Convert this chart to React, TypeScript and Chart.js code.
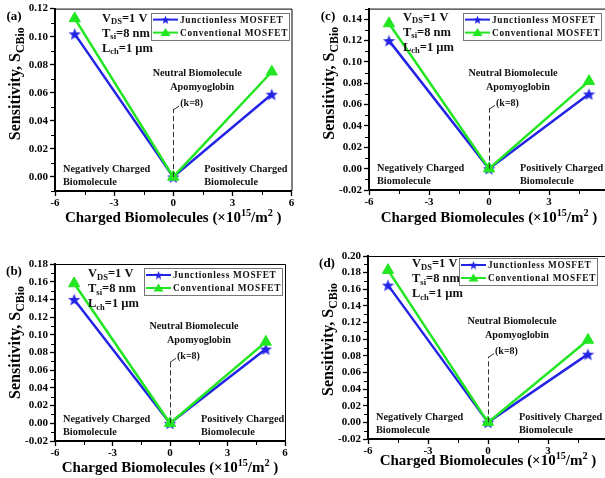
import React, { useEffect, useRef } from 'react';
import { Chart, registerables } from 'chart.js';

Chart.register(...registerables);

// ---------- data ----------
const chargeX = [-5, 0, 5];
const seriesNames = ['Junctionless MOSFET', 'Conventional MOSFET'];
const panelNames = ['(a)', '(b)', '(c)', '(d)'];

const junctionlessA = [0.102, 0, 0.059];
const conventionalA = [0.113, 0, 0.075];
const junctionlessB = [0.140, 0, 0.084];
const conventionalB = [0.158, 0, 0.092];
const junctionlessC = [0.120, 0, 0.070];
const conventionalC = [0.136, 0, 0.082];
const junctionlessD = [0.165, 0, 0.082];
const conventionalD = [0.183, 0, 0.099];

const xTicks = [-6, -3, 0, 3, 6];
const yTicksA = [0, 0.02, 0.04, 0.06, 0.08, 0.10, 0.12];
const yTicksB = [-0.02, 0, 0.02, 0.04, 0.06, 0.08, 0.10, 0.12, 0.14, 0.16, 0.18];
const yTicksC = [-0.02, 0, 0.02, 0.04, 0.06, 0.08, 0.10, 0.12, 0.14];
const yTicksD = [-0.02, 0, 0.02, 0.04, 0.06, 0.08, 0.10, 0.12, 0.14, 0.16, 0.18, 0.20];

// ---------- styling ----------
const SERIF = '"Liberation Serif", "Times New Roman", serif';
const BLUE = '#2424e6';
const GREEN = '#22e622';

type Piece = { t: string; s?: 'sub' | 'sup' };

function setFont(ctx: CanvasRenderingContext2D, size: number) {
  ctx.font = `bold ${size}px ${SERIF}`;
}

function drawRich(
  ctx: CanvasRenderingContext2D,
  pieces: Piece[],
  x: number,
  y: number,
  size: number,
  align: 'left' | 'center',
  subScale = 0.68
) {
  const widths = pieces.map((p) => {
    setFont(ctx, p.s ? size * subScale : size);
    return ctx.measureText(p.t).width;
  });
  const total = widths.reduce((a, b) => a + b, 0);
  let cx = align === 'center' ? x - total / 2 : x;
  ctx.textAlign = 'left';
  ctx.textBaseline = 'alphabetic';
  pieces.forEach((p, i) => {
    setFont(ctx, p.s ? size * subScale : size);
    const dy = p.s === 'sub' ? size * 0.22 : p.s === 'sup' ? -size * 0.42 : 0;
    ctx.fillText(p.t, cx, y + size * 0.33 + dy);
    cx += widths[i];
  });
}

function makeStar(size: number, color: string) {
  const c = document.createElement('canvas');
  c.width = size;
  c.height = size;
  const g = c.getContext('2d')!;
  const cx = size / 2;
  const cy = size / 2 + size * 0.06;
  const R = size / 2;
  const r = R * 0.42;
  g.beginPath();
  for (let i = 0; i < 10; i++) {
    const ang = -Math.PI / 2 + (i * Math.PI) / 5;
    const rad = i % 2 === 0 ? R : r;
    g.lineTo(cx + rad * Math.cos(ang), cy + rad * Math.sin(ang));
  }
  g.closePath();
  g.fillStyle = color;
  g.fill();
  return c;
}

type PanelCfg = {
  name: string;
  jl: number[];
  cv: number[];
  yTicks: number[];
  yMin: number;
  yMax: number;
  left: number;
  top: number;
  w: number;
  h: number;
  area: { l: number; t: number; r: number; b: number };
  vdsDx: number;
  vdsDy: number;
  legendDx: number;
  legendDy: number;
  xTitleDy: number;
  yTitleDy: number;
};

const panels: PanelCfg[] = [
  {
    name: panelNames[0], jl: junctionlessA, cv: conventionalA, yTicks: yTicksA,
    yMin: -0.01, yMax: 0.12, left: 0, top: 0, w: 300, h: 240,
    area: { l: 55, t: 8, r: 295, b: 191 },
    vdsDx: 47, vdsDy: 9, legendDx: 96, legendDy: 4, xTitleDy: 26, yTitleDy: -16,
  },
  {
    name: panelNames[1], jl: junctionlessB, cv: conventionalB, yTicks: yTicksB,
    yMin: -0.02, yMax: 0.18, left: 0, top: 240, w: 300, h: 238,
    area: { l: 55, t: 264, r: 285, b: 441 },
    vdsDx: 33, vdsDy: 9, legendDx: 89, legendDy: 4, xTitleDy: 26, yTitleDy: -10,
  },
  {
    name: panelNames[2], jl: junctionlessC, cv: conventionalC, yTicks: yTicksC,
    yMin: -0.02, yMax: 0.15, left: 300, top: 0, w: 320, h: 240,
    area: { l: 369, t: 5, r: 609, b: 190 },
    vdsDx: 34, vdsDy: 8, legendDx: 94, legendDy: 4, xTitleDy: 27, yTitleDy: -16,
  },
  {
    name: panelNames[3], jl: junctionlessD, cv: conventionalD, yTicks: yTicksD,
    yMin: -0.02, yMax: 0.20, left: 300, top: 240, w: 320, h: 238,
    area: { l: 368, t: 256, r: 608, b: 439 },
    vdsDx: 44, vdsDy: 7, legendDx: 91, legendDy: 2, xTitleDy: 21.5, yTitleDy: -8,
  },
];

function Panel({ cfg }: { cfg: PanelCfg }) {
  const ref = useRef<HTMLCanvasElement | null>(null);

  useEffect(() => {
    const canvas = ref.current;
    if (!canvas) return;
    const starBig = makeStar(13, BLUE);
    const starSmall = makeStar(9, BLUE);

    const a = cfg.area;
    const yW = a.l - cfg.left;
    const xH = cfg.top + cfg.h - a.b;

    const annot = {
      id: 'annot',
      afterDraw(chart: any) {
        const ctx: CanvasRenderingContext2D = chart.ctx;
        const ca = chart.chartArea;
        const xs = chart.scales.x;
        const ys = chart.scales.y;
        ctx.save();
        ctx.fillStyle = '#000';
        ctx.strokeStyle = '#000';

        // top and right frame
        ctx.lineWidth = 1;
        ctx.beginPath();
        ctx.moveTo(ca.left, ca.top + 0.5);
        ctx.lineTo(ca.right + 0.5, ca.top + 0.5);
        ctx.lineTo(ca.right + 0.5, ca.bottom);
        ctx.stroke();

        // minor ticks
        ctx.lineWidth = 1;
        const yt = cfg.yTicks;
        const minorsY: number[] = [];
        for (let i = 0; i < yt.length - 1; i++) minorsY.push((yt[i] + yt[i + 1]) / 2);
        const stepY = yt[1] - yt[0];
        if (yt[0] - stepY / 2 >= cfg.yMin - 1e-9) minorsY.push(yt[0] - stepY / 2);
        if (yt[yt.length - 1] + stepY / 2 <= cfg.yMax + 1e-9) minorsY.push(yt[yt.length - 1] + stepY / 2);
        ctx.beginPath();
        minorsY.forEach((v) => {
          const py = Math.round(ys.getPixelForValue(v)) + 0.5;
          ctx.moveTo(ca.left - 1, py);
          ctx.lineTo(ca.left - 4, py);
        });
        for (let i = 0; i < xTicks.length - 1; i++) {
          const v = (xTicks[i] + xTicks[i + 1]) / 2;
          const px = Math.round(xs.getPixelForValue(v)) + 0.5;
          ctx.moveTo(px, ca.bottom + 1);
          ctx.lineTo(px, ca.bottom + 4);
        }
        ctx.stroke();

        // dashed neutral line at x = 0
        const x0 = xs.getPixelForValue(0);
        const y0 = ys.getPixelForValue(0);
        const yTop = ca.bottom - (ca.bottom - ca.top) * 0.45;
        ctx.strokeStyle = '#333';
        ctx.lineWidth = 1;
        ctx.setLineDash([5, 3]);
        ctx.beginPath();
        ctx.moveTo(Math.round(x0) + 0.5, y0);
        ctx.lineTo(Math.round(x0) + 0.5, yTop);
        ctx.stroke();
        ctx.setLineDash([]);
        ctx.beginPath();
        ctx.moveTo(x0, yTop + 1);
        ctx.lineTo(x0 + 6, yTop - 3);
        ctx.stroke();

        ctx.fillStyle = '#111';
        drawRich(ctx, [{ t: '(k=8)' }], x0 + 7, yTop - 6, 10, 'left');
        drawRich(ctx, [{ t: 'Apomyoglobin' }], x0 + 29, yTop - 22, 10.2, 'center');
        drawRich(ctx, [{ t: 'Neutral Biomolecule' }], x0 + 24, yTop - 36, 10.2, 'center');

        drawRich(ctx, [{ t: 'Negatively Charged' }], ca.left + 8, ca.bottom - 22, 10.3, 'left');
        drawRich(ctx, [{ t: 'Biomolecule' }], ca.left + 8, ca.bottom - 9, 10.3, 'left');
        drawRich(ctx, [{ t: 'Positively Charged' }], x0 + 31, ca.bottom - 22, 10.3, 'left');
        drawRich(ctx, [{ t: 'Biomolecule' }], x0 + 31, ca.bottom - 9, 10.3, 'left');

        // device parameters
        const vx = ca.left + cfg.vdsDx;
        const vy = ca.top + cfg.vdsDy;
        drawRich(ctx, [{ t: 'V' }, { t: 'DS', s: 'sub' }, { t: '=1 V' }], vx, vy, 12.5, 'left');
        drawRich(ctx, [{ t: 'T' }, { t: 'si', s: 'sub' }, { t: '=8 nm' }], vx, vy + 15, 12.5, 'left');
        drawRich(ctx, [{ t: 'L' }, { t: 'ch', s: 'sub' }, { t: '=1 \u00b5m' }], vx, vy + 30, 12.5, 'left');

        // legend
        const lx = ca.left + cfg.legendDx;
        const ly = ca.top + cfg.legendDy;
        const lw = 138;
        const lh = 27;
        ctx.strokeStyle = '#777';
        ctx.lineWidth = 1;
        ctx.strokeRect(Math.round(lx) + 0.5, Math.round(ly) + 0.5, lw, lh);
        chart.data.datasets.forEach((ds: any, i: number) => {
          const ry = ly + 7 + i * 13;
          ctx.strokeStyle = ds.borderColor;
          ctx.lineWidth = 2;
          ctx.beginPath();
          ctx.moveTo(lx + 2, ry);
          ctx.lineTo(lx + 27, ry);
          ctx.stroke();
          ctx.fillStyle = ds.borderColor;
          if (i === 0) {
            ctx.drawImage(starSmall, lx + 14.5 - 4.5, ry - 4.5);
          } else {
            ctx.beginPath();
            ctx.moveTo(lx + 14.5, ry - 4.5);
            ctx.lineTo(lx + 19.5, ry + 3.5);
            ctx.lineTo(lx + 9.5, ry + 3.5);
            ctx.closePath();
            ctx.fill();
          }
          ctx.fillStyle = '#111';
          (ctx as any).letterSpacing = '0.7px';
          drawRich(ctx, [{ t: ds.label }], lx + 29, ry, 9.3, 'left');
          (ctx as any).letterSpacing = '0px';
        });

        // axis titles
        ctx.fillStyle = '#000';
        const xc = (ca.left + ca.right) / 2;
        drawRich(
          ctx,
          [
            { t: 'Charged Biomolecules (\u00d710' },
            { t: '15', s: 'sup' },
            { t: '/m' },
            { t: '2', s: 'sup' },
            { t: ' )' },
          ],
          xc,
          ca.bottom + cfg.xTitleDy,
          15,
          'center'
        );
        const yc = (ca.top + ca.bottom) / 2 + cfg.yTitleDy;
        ctx.save();
        ctx.translate(ca.left - 40, yc);
        ctx.rotate(-Math.PI / 2);
        drawRich(ctx, [{ t: 'Sensitivity, S' }, { t: 'CBio', s: 'sub' }], 0, 0, 16, 'center', 0.74);
        ctx.restore();

        // panel label
        drawRich(ctx, [{ t: cfg.name }], ca.left - 41, ca.top + 7, 13, 'center');
        ctx.restore();
      },
    };

    const tickFont = { family: SERIF, size: 11, weight: 'bold' as const };

    const chart = new Chart(canvas, {
      type: 'line',
      data: {
        datasets: [
          {
            label: seriesNames[0],
            data: chargeX.map((x, i) => ({ x, y: cfg.jl[i] })),
            borderColor: BLUE,
            backgroundColor: BLUE,
            borderWidth: 2.5,
            pointStyle: starBig as any,
            pointRadius: 6,
            order: 1,
          },
          {
            label: seriesNames[1],
            data: chargeX.map((x, i) => ({ x, y: cfg.cv[i] })),
            borderColor: GREEN,
            backgroundColor: GREEN,
            borderWidth: 2.5,
            pointStyle: 'triangle',
            pointRadius: 6.5,
            pointBorderWidth: 1,
            order: 0,
          },
        ],
      },
      options: {
        responsive: false,
        animation: false,
        devicePixelRatio: 1,
        layout: {
          padding: {
            left: 0,
            top: a.t - cfg.top,
            right: cfg.left + cfg.w - a.r,
            bottom: 0,
          },
        },
        plugins: {
          legend: { display: false },
          tooltip: { enabled: false },
          title: { display: false },
        },
        scales: {
          x: {
            type: 'linear',
            min: -6,
            max: 6,
            afterBuildTicks: (s: any) => {
              s.ticks = xTicks.map((v) => ({ value: v }));
            },
            afterFit: (s: any) => {
              s.height = xH;
            },
            ticks: {
              font: tickFont,
              color: '#000',
              padding: 1,
              maxRotation: 0,
              autoSkip: false,
              callback: (v: any) => String(v),
            },
            grid: {
              display: true,
              drawOnChartArea: false,
              drawTicks: true,
              tickLength: 5,
              tickColor: '#000',
              tickWidth: 1.3,
            },
            border: { display: true, color: '#000', width: 2 },
          },
          y: {
            type: 'linear',
            min: cfg.yMin,
            max: cfg.yMax,
            afterBuildTicks: (s: any) => {
              s.ticks = cfg.yTicks.map((v) => ({ value: v }));
            },
            afterFit: (s: any) => {
              s.width = yW;
            },
            ticks: {
              font: tickFont,
              color: '#000',
              padding: 2,
              autoSkip: false,
              callback: (v: any) => Number(v).toFixed(2),
            },
            grid: {
              display: true,
              drawOnChartArea: false,
              drawTicks: true,
              tickLength: 5,
              tickColor: '#000',
              tickWidth: 1.3,
            },
            border: { display: true, color: '#000', width: 2 },
          },
        },
      },
      plugins: [annot],
    });
    return () => chart.destroy();
  }, [cfg]);

  return (
    <canvas
      ref={ref}
      width={cfg.w}
      height={cfg.h}
      style={{ position: 'absolute', left: cfg.left, top: cfg.top, width: cfg.w, height: cfg.h }}
    />
  );
}

export default function App() {
  return (
    <div
      style={{
        position: 'fixed',
        left: 0,
        top: 0,
        width: 605,
        height: 478,
        overflow: 'hidden',
        background: '#fff',
      }}
    >
      {panels.map((p) => (
        <Panel key={p.name} cfg={p} />
      ))}
    </div>
  );
}
